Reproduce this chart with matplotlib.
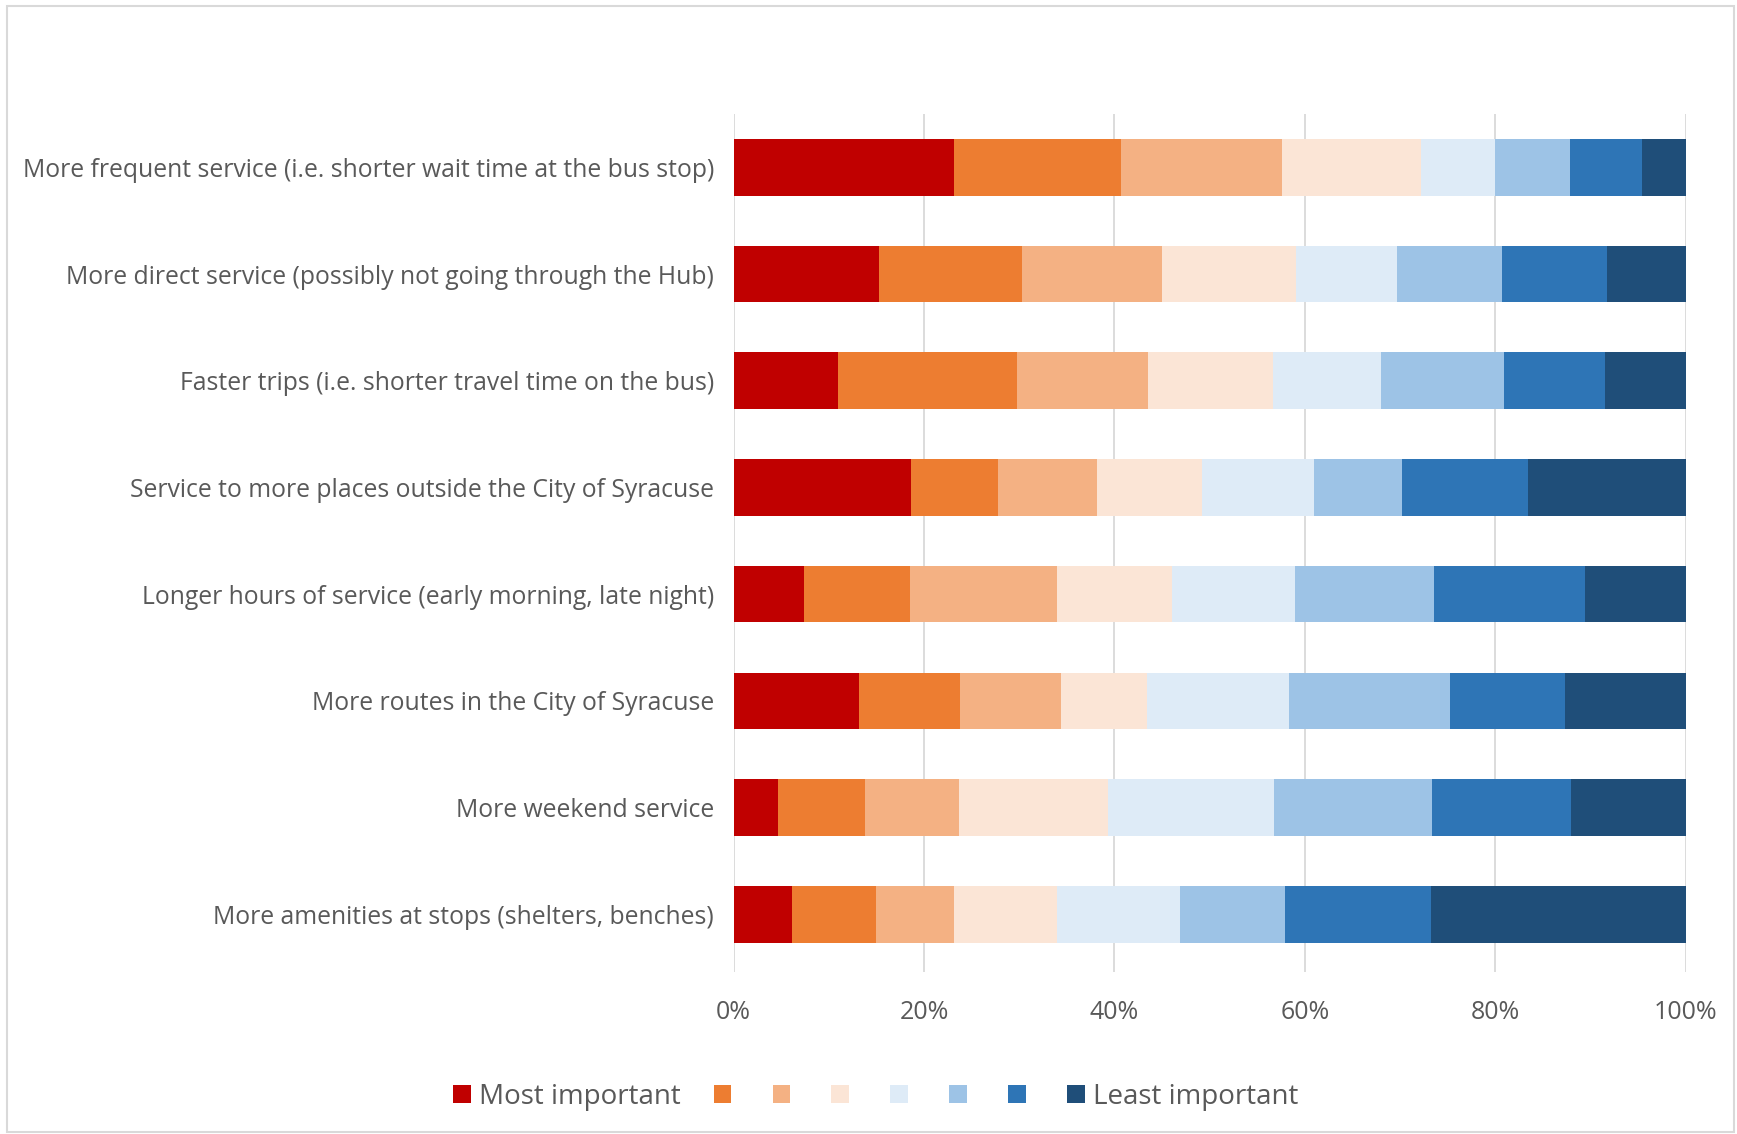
import matplotlib.pyplot as plt
import numpy as np
from matplotlib.patches import Patch, Rectangle

plt.rcParams['font.family'] = ['Open Sans', 'DejaVu Sans']

# Survey answers: share of respondents per rank (most -> least important)
categories = [
    'More frequent service (i.e. shorter wait time at the bus stop)',
    'More direct service (possibly not going through the Hub)',
    'Faster trips (i.e. shorter travel time on the bus)',
    'Service to more places outside the City of Syracuse',
    'Longer hours of service (early morning, late night)',
    'More routes in the City of Syracuse',
    'More weekend service',
    'More amenities at stops (shelters, benches)',
]
rank1 = [23.2, 15.3, 11.0, 18.6, 7.4, 13.2, 4.7, 6.1]
rank2 = [17.5, 15.0, 18.8, 9.2, 11.2, 10.6, 9.1, 8.8]
rank3 = [17.0, 14.7, 13.8, 10.4, 15.4, 10.6, 9.9, 8.2]
rank4 = [14.6, 14.1, 13.1, 11.0, 12.1, 9.0, 15.6, 10.8]
rank5 = [7.8, 10.7, 11.4, 11.8, 12.9, 14.9, 17.5, 13.0]
rank6 = [7.8, 11.0, 12.9, 9.2, 14.7, 17.0, 16.6, 11.0]
rank7 = [7.6, 11.0, 10.6, 13.2, 15.8, 12.0, 14.6, 15.3]
rank8 = [4.6, 8.3, 8.5, 16.6, 10.6, 12.7, 12.0, 26.7]
ranks = [rank1, rank2, rank3, rank4, rank5, rank6, rank7, rank8]
rank_labels = ['Most important', '', '', '', '', '', '', 'Least important']
colors = ['#C00000', '#ED7D31', '#F4B183', '#FBE5D6',
          '#DEEBF7', '#9DC3E6', '#2E75B6', '#1F4E79']

text_color = '#595959'

fig = plt.figure(figsize=(17.37, 11.34), dpi=100)
ax = fig.add_axes([0.4223, 0.1429, 0.5481, 0.7566])

y = np.arange(len(categories))
data = np.array(ranks, dtype=float)
data = data / data.sum(axis=0) * 100  # 100% stacked
left = np.zeros(len(categories))
for vals, c in zip(data, colors):
    ax.barh(y, vals, left=left, height=0.53, color=c, zorder=3)
    left += vals

ax.set_xlim(0, 100)
ax.set_ylim(len(categories) - 0.46, -0.5)
ax.set_yticks(y)
ax.set_yticklabels(categories)
ax.set_xticks(np.arange(0, 101, 20))
ax.set_xticklabels([f'{v}%' for v in range(0, 101, 20)])
ax.tick_params(axis='y', length=0, pad=14, labelsize=17.8, labelcolor=text_color)
ax.tick_params(axis='x', length=0, pad=20, labelsize=18, labelcolor=text_color)
ax.grid(axis='x', color='#D9D9D9', linewidth=1.3, zorder=0)
for s in ax.spines.values():
    s.set_visible(False)

handles = [Patch(facecolor=c, edgecolor='none') for c in colors]
leg = fig.legend(handles, rank_labels, loc='center', ncol=8,
                 bbox_to_anchor=(0.504, 0.033), frameon=False,
                 fontsize=20, handlelength=0.64, handleheight=0.64,
                 handletextpad=0.28, columnspacing=1.2)
for t in leg.get_texts():
    t.set_color(text_color)

# outer chart border
fig.patches.append(Rectangle((7 / 1737, 2 / 1134), 1727 / 1737, 1126 / 1134,
                             transform=fig.transFigure, fill=False,
                             edgecolor='#D9D9D9', linewidth=1.5))

fig.savefig('out.png', dpi=100)
